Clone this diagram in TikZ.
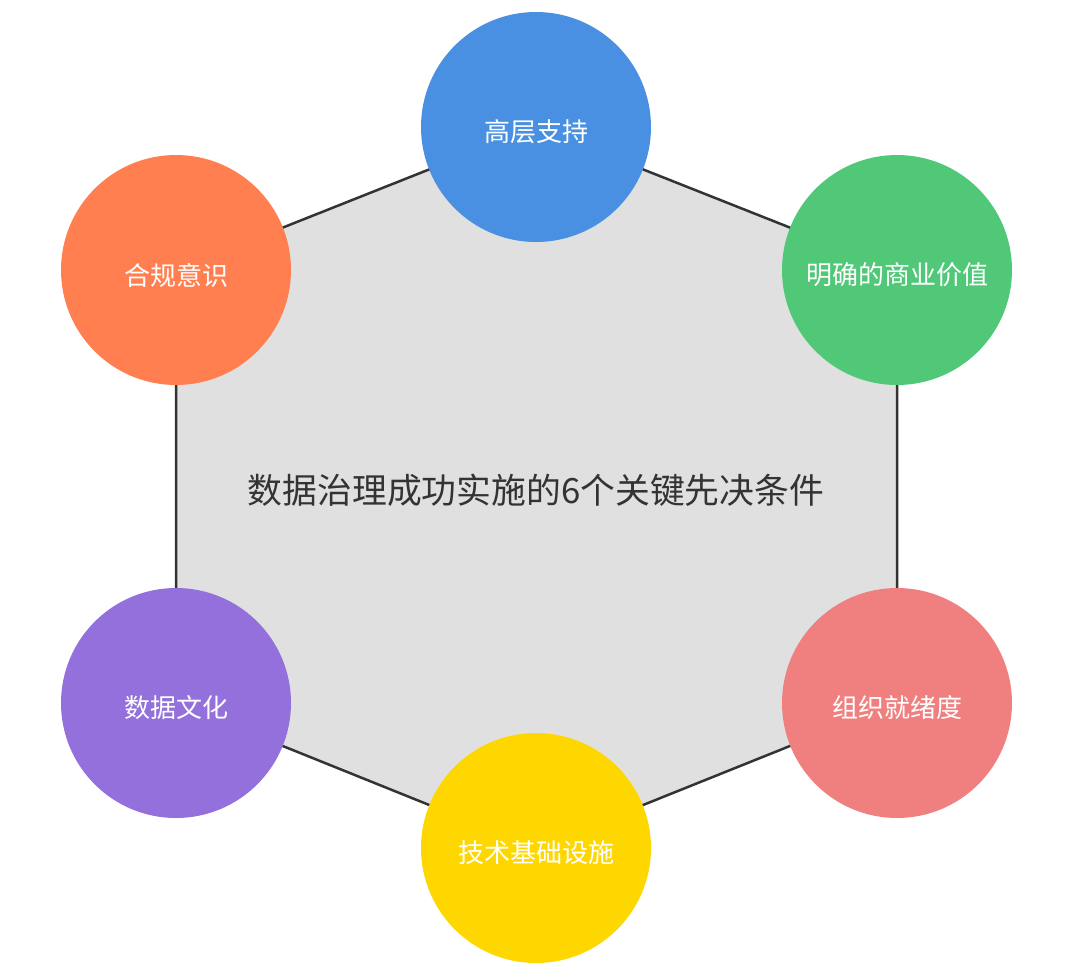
\documentclass[tikz,border=0pt]{standalone}
\usepackage{fontspec}
\setmainfont{Noto Sans CJK SC}
\definecolor{hexfill}{HTML}{E0E0E0}
\definecolor{hexline}{HTML}{333333}
\definecolor{cblue}{HTML}{4A90E2}
\definecolor{cgreen}{HTML}{50C878}
\definecolor{cred}{HTML}{F08080}
\definecolor{cyellow}{HTML}{FFD700}
\definecolor{cpurple}{HTML}{9370DB}
\definecolor{corange}{HTML}{FF7F50}
\begin{document}
\begin{tikzpicture}[x=1pt,y=-1pt,
  factor/.style={circle,minimum size=230pt,inner sep=0pt,fill=#1},
  flabel/.style={text=white,font=\fontsize{26}{30}\selectfont},
  title/.style={text=hexline,font=\fontsize{34.8}{40}\selectfont}]
\useasboundingbox[fill=white] (0,0) rectangle (1080,977);
\coordinate (p1) at (536,127);
\coordinate (p2) at (897,270);
\coordinate (p3) at (897,703);
\coordinate (p4) at (536,848);
\coordinate (p5) at (176,703);
\coordinate (p6) at (176,270);
\draw[fill=hexfill,draw=hexline,line width=2.5pt,line join=miter] (p1) -- (p2) -- (p3) -- (p4) -- (p5) -- (p6) -- cycle;
\node[title] (center) at (536,490) {数据治理成功实施的6个关键先决条件};
\node[factor=cblue] (n1) at (p1) {};
\node[factor=cgreen] (n2) at (p2) {};
\node[factor=cred] (n3) at (p3) {};
\node[factor=cyellow] (n4) at (p4) {};
\node[factor=cpurple] (n5) at (p5) {};
\node[factor=corange] (n6) at (p6) {};
\node[flabel] (t1) at ([yshift=-5pt]n1.center) {高层支持};
\node[flabel] (t2) at ([yshift=-5pt]n2.center) {明确的商业价值};
\node[flabel] (t3) at ([yshift=-5pt]n3.center) {组织就绪度};
\node[flabel] (t4) at ([yshift=-5pt]n4.center) {技术基础设施};
\node[flabel] (t5) at ([yshift=-5pt]n5.center) {数据文化};
\node[flabel] (t6) at ([yshift=-5pt]n6.center) {合规意识};
\end{tikzpicture}
\end{document}
